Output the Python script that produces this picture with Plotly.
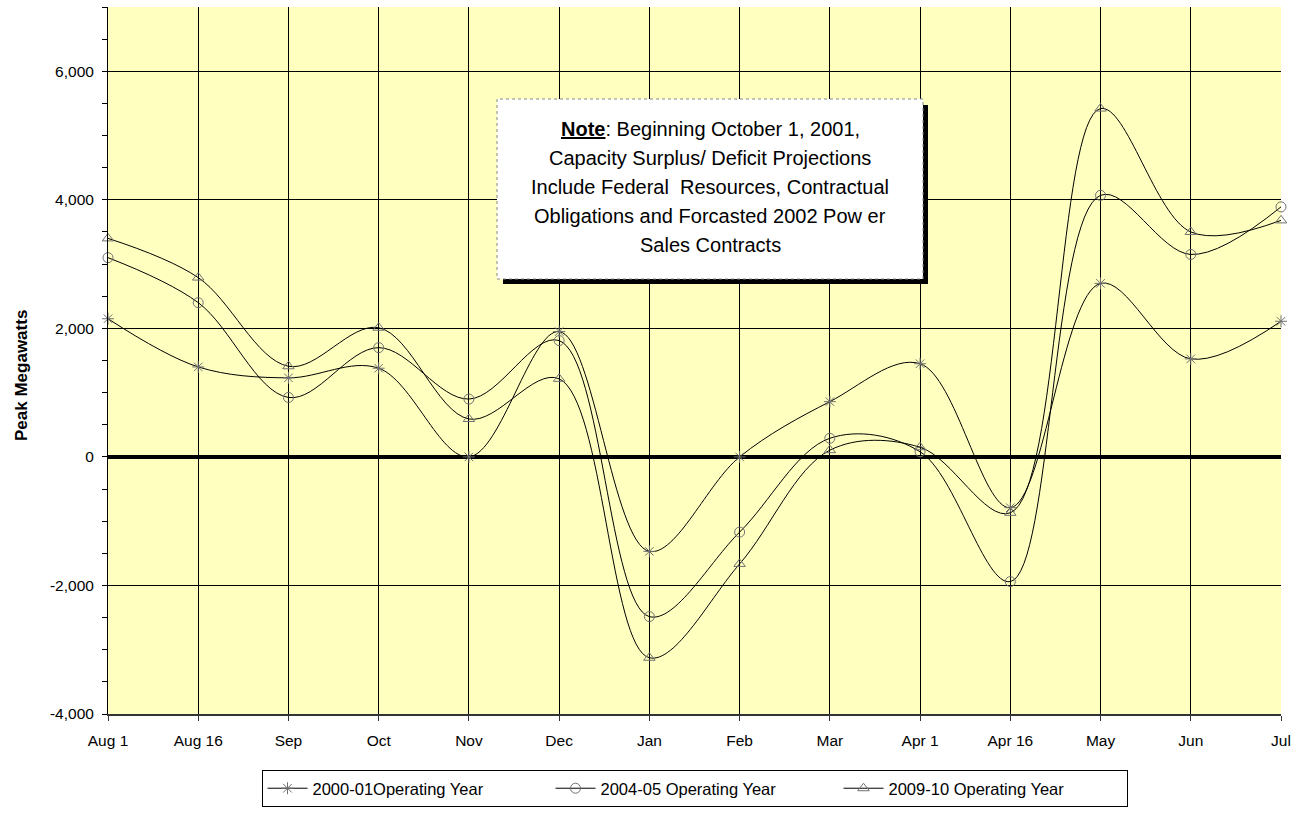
import plotly.graph_objects as go

categories = ["Aug 1", "Aug 16", "Sep", "Oct", "Nov", "Dec", "Jan", "Feb",
              "Mar", "Apr 1", "Apr 16", "May", "Jun", "Jul"]
year_2000_01 = [2150, 1400, 1230, 1380, 0, 1950, -1470, 0, 860, 1450, -790, 2700, 1525, 2110]
year_2004_05 = [3100, 2400, 925, 1700, 900, 1810, -2485, -1170, 290, 80, -1940, 4070, 3150, 3890]
year_2009_10 = [3400, 2790, 1410, 2010, 590, 1215, -3125, -1665, 105, 150, -870, 5420, 3500, 3680]

series_names = ["2000-01Operating Year", "2004-05 Operating Year", "2009-10 Operating Year"]
series_values = [year_2000_01, year_2004_05, year_2009_10]
series_symbols = ["asterisk-open", "circle-open", "triangle-up-open"]

y_tick_values = [-4000, -2000, 0, 2000, 4000, 6000]
y_tick_labels = ["-4,000", "-2,000", "0", "2,000", "4,000", "6,000"]

note_lines = [
    "<b><u>Note</u></b>: Beginning October 1, 2001,",
    "Capacity Surplus/ Deficit Projections",
    "Include Federal  Resources, Contractual",
    "Obligations and Forcasted 2002 Pow er",
    "Sales Contracts",
]

FONT = "Liberation Sans, Arial, sans-serif"

fig = go.Figure()
xs = list(range(len(categories)))
for name, vals, sym in zip(series_names, series_values, series_symbols):
    fig.add_trace(go.Scatter(
        x=xs, y=vals, name=name, mode="lines+markers",
        line=dict(color="black", width=1, shape="spline", smoothing=1.0),
        marker=dict(symbol=sym, size=10, color="#707070",
                    line=dict(color="#707070", width=1)),
        cliponaxis=False,
    ))

# plot-area pixel geometry
L, R, T, B = 108, 1281, 7, 714
W, H = R - L, B - T


def px(xp):
    return (xp - L) / W


def py(yp):
    return (B - yp) / H


shapes = [
    dict(type="rect", xref="paper", yref="paper",
         x0=px(503), x1=px(928), y0=py(284), y1=py(105),
         fillcolor="black", line=dict(width=0), layer="above"),
    dict(type="rect", xref="paper", yref="paper",
         x0=px(497), x1=px(923), y0=py(279), y1=py(99),
         fillcolor="white", line=dict(color="#888888", width=1, dash="dot"),
         layer="above"),
]

annotations = []
line_y = [129, 158, 187, 216, 245]
for txt, yy in zip(note_lines, line_y):
    annotations.append(dict(
        text=txt, xref="paper", yref="paper", x=px(710), y=py(yy),
        xanchor="center", yanchor="middle", showarrow=False,
        font=dict(family=FONT, size=20, color="black"),
    ))
annotations.append(dict(
    text="<b>Peak Megawatts</b>", xref="paper", yref="paper",
    x=px(22), y=py(376), xanchor="center", yanchor="middle",
    textangle=-90, showarrow=False,
    font=dict(family=FONT, size=17, color="black"),
))

fig.update_layout(
    width=1304, height=817,
    margin=dict(l=L, r=1304 - R, t=T, b=817 - B),
    paper_bgcolor="white",
    plot_bgcolor="#FFFFC0",
    font=dict(family=FONT, size=16, color="black"),
    shapes=shapes,
    annotations=annotations,
    showlegend=True,
    legend=dict(
        orientation="h", x=0.5, xanchor="center", y=py(770), yanchor="top",
        bgcolor="white", bordercolor="black", borderwidth=1,
        font=dict(family=FONT, size=16.5, color="black"),
        entrywidth=233, itemwidth=40,
    ),
)

fig.update_xaxes(
    range=[0, len(categories) - 1],
    tickmode="array", tickvals=xs, ticktext=categories,
    showgrid=True, gridcolor="black", gridwidth=1,
    showline=True, linecolor="#333333", linewidth=2,
    ticks="outside", ticklen=5, tickcolor="#333333",
    ticklabelstandoff=6,
    zeroline=False,
    tickfont=dict(family=FONT, size=15.5),
)
fig.update_yaxes(
    range=[-4000, 7000],
    tickmode="array", tickvals=y_tick_values, ticktext=y_tick_labels,
    showgrid=True, gridcolor="black", gridwidth=1,
    showline=True, linecolor="black", linewidth=1,
    ticks="outside", ticklen=5, tickcolor="black",
    ticklabelstandoff=5,
    minor=dict(tickmode="linear", tick0=0, dtick=500, ticks="outside",
               ticklen=5, tickcolor="black", showgrid=False),
    zeroline=True, zerolinecolor="black", zerolinewidth=3.5,
    tickfont=dict(family=FONT, size=15.5),
)

fig.write_html("out.html", post_script="document.body.style.margin='0';",
               config={"displayModeBar": False})
